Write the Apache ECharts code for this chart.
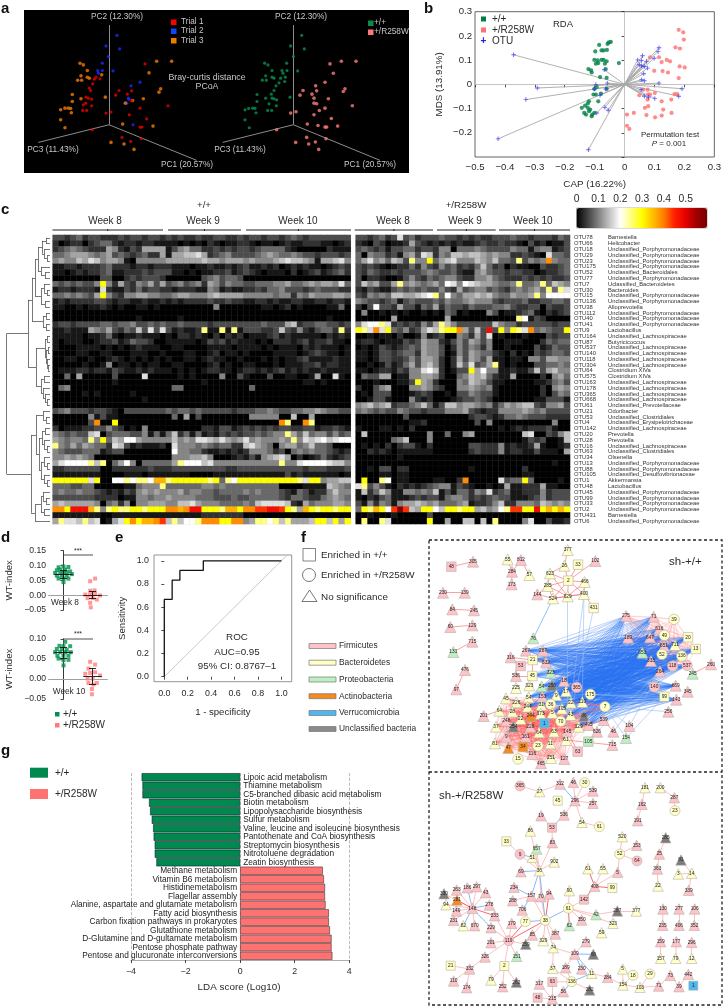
<!DOCTYPE html>
<html><head><meta charset="utf-8">
<style>html,body{margin:0;padding:0;background:#fff}#c{width:724px;height:1006px}</style>
<script src="https://cdn.jsdelivr.net/npm/echarts@6/dist/echarts.min.js"></script>
</head><body><div id="c"></div>
<script>
// ---------- panel a: PCoA projections (picture units of the 3-D projection)
const trial1=[[435,192],[288,232],[300,237],[283,238],[278,252],[268,265],[272,272],[258,292],[265,295],[275,298],[257,310],[275,318],[250,315],[248,332],[260,332],[357,272],[347,286],[395,273],[382,283],[420,325],[395,303],[318,340],[333,337],[388,345],[440,357],[504,318],[420,382],[426,382],[277,390],[366,413],[424,417],[392,425]];
const trial2=[[351,106],[318,138],[359,147],[325,170],[307,190],[307,212],[293,212],[295,220],[339,213],[420,247],[393,258],[385,295],[387,298],[380,310],[399,375]];
const trial3=[[240,190],[250,195],[262,212],[243,228],[262,232],[268,235],[233,241],[245,241],[305,225],[217,284],[243,297],[217,305],[182,330],[195,325],[205,325],[212,326],[214,339],[182,360],[195,384],[316,292],[470,184],[515,184],[447,219],[482,267],[477,277],[430,297],[398,302],[376,310],[368,373],[459,379],[333,428],[372,433],[402,449]];
const pcoaWT=[[905,106],[872,138],[913,147],[880,170],[794,190],[804,195],[860,190],[816,212],[846,212],[861,212],[893,213],[849,220],[797,228],[816,232],[822,235],[856,232],[787,241],[799,241],[842,235],[854,245],[837,249],[828,258],[822,272],[814,283],[771,284],[797,295],[816,295],[822,297],[830,300],[807,312],[771,305],[735,330],[746,326],[758,325],[765,326],[768,339],[803,332],[815,332],[829,318],[735,360],[748,384],[870,292]];
const pcoaMut=[[990,192],[1024,184],[1068,184],[1000,220],[975,247],[947,258],[909,272],[950,273],[900,286],[936,283],[942,295],[985,297],[942,310],[950,312],[975,325],[958,332],[1057,318],[1035,267],[1030,275],[872,340],[888,336],[942,345],[994,356],[922,373],[954,377],[975,382],[980,382],[1013,379],[830,390],[920,413],[978,417],[946,427],[887,428],[926,433],[956,449]];
const pcoaAxes=[[[327,375],[327,75]],[[327,375],[115,428]],[[327,375],[590,482]],[[880,375],[880,75]],[[880,375],[668,428]],[[880,375],[1140,482]]];
// ---------- panel b: RDA
const rdaWT=[[-.085,.163],[-.046,.175],[-.053,.173],[-.057,.167],[-.059,.142],[-.077,.14],[-.07,.14],[-.098,.136],[-.019,.088],[-.101,.101],[-.09,.099],[-.088,.088],[-.077,.101],[-.07,.101],[-.06,.095],[-.066,.085],[-.096,.085],[-.121,.063],[-.112,.058],[-.11,.049],[-.082,.03],[-.06,.027],[-.063,.063],[-.101,-.019],[-.093,-.011],[-.104,-.042],[-.096,-.042],[-.079,-.038],[-.06,-.019],[-.132,-.088],[-.123,-.079],[-.143,-.097],[-.119,-.07],[-.088,-.07],[-.135,-.118],[-.129,-.125],[-.115,-.104],[-.11,-.132],[-.101,-.118],[-.108,-.125],[-.123,-.097],[-.119,-.111]];
const rdaMut=[[.181,.225],[.196,.215],[.198,.185],[.17,.153],[.185,.148],[.115,.112],[.085,.112],[.124,.092],[.141,.101],[.152,.095],[.184,.074],[.201,.07],[.099,.056],[.127,.055],[.145,.049],[.181,.026],[.062,-.022],[.077,-.022],[.079,-.042],[.085,-.042],[.101,-.036],[.077,-.063],[.049,-.045],[.124,-.07],[.156,-.063],[.167,-.04],[.176,-.04],[.079,-.09],[.068,-.097],[.129,-.104],[.008,-.125],[.031,-.118],[.073,-.127],[.102,-.136],[.124,-.129],[.157,-.118],[.008,-.171],[.016,-.184]];
const rdaOTU=[[-.371,.122],[-.292,-.015],[-.33,-.063],[-.423,-.225],[-.121,-.27],[-.096,-.001],[-.058,.005],[-.063,-.019],[-.101,-.019],[-.082,-.045],[-.093,-.118],[-.066,-.095],[-.055,-.107],[-.068,.06],[.115,.151],[.112,.136],[.06,.118],[.044,.101],[.057,.099],[.073,.095],[.099,.108],[.077,.067],[.066,.074],[.057,.077],[.049,.081],[.064,.044],[.057,.019],[.066,.015],[.115,.005],[.192,-.018],[.181,-.049],[.101,-.058],[.08,-.053],[.055,-.022],[.066,-.049]];
// ---------- panel c: heat map
const otuNames=['OTU78','OTU66','OTU18','OTU29','OTU23','OTU175','OTU52','OTU77','OTU7','OTU30','OTU15','OTU136','OTU38','OTU112','OTU40','OTU41','OTU9','OTU164','OTU87','OTU537','OTU140','OTU118','OTU304','OTU64','OTU575','OTU163','OTU178','OTU365','OTU668','OTU61','OTU21','OTU53','OTU4','OTU142','OTU20','OTU28','OTU16','OTU63','OTU34','OTU13','OTU88','OTU105','OTU1','OTU48','OTU45','OTU99','OTU33','OTU2','OTU431','OTU6'];
const P='Unclassified_Porphyromonadaceae',LA='Unclassified_Lachnospiraceae';
const taxa=['Barnesiella','Helicobacter',P,P,P,P,'Unclassified_Bacteroidales',P,'Uclassified_Bacteroidetes','Bacteroides',P,P,'Alloprevotella',P,P,P,'Lactobacillus',LA,'Butyricicoccus',LA,LA,LA,LA,'Clostridium XIVa','Clostridium XIVa',LA,LA,LA,LA,'Unclassified_Prevotellaceae','Odoribacter','Unclassified_Clostridiales','Unclassified_Erysipelotrichaceae',LA,'Prevotella','Prevotella',LA,'Unclassified_Clostridiales','Olsenella',P,P,'Unclassified_Desulfovibrionaceae','Akkermansia','Lactobacillus',P,P,P,P,'Barnesiella',P];
const levels={a:.25,y:.3,o:.36,O:.39,r:.44,R:.48,D:.58};
const heatWT=[
"3323423322 2323323323 2322322332 2323323323 4323333333",
"2012202344 2122122111 1010102101 1221011012 1122211012",
"2345432226 5213266661 3564422323 2332344442 1000002111",
"4456665456 3432342261 6677862345 3333456544 5433233323",
"5655768756 6510555556 6666676656 6656555678 7765166785",
"1122122234 2221221222 1110112112 1231121201 2121101232",
"1101212234 1122232333 1101011223 1232101110 2012312342",
"0000000033 0023233320 0000034534 4300000000 0000000000",
"43434335y5 2632546363 4534526535 4433444556 4456566584",
"1221222182 1132423322 1222115412 1122324453 3323433322",
"44545436y5 3255665544 5665556766 6655555455 2546555665",
"1212222332 1221121121 2122223223 2211221211 2211221221",
"1100101121 0100110100 0000000500 0000011012 0100001140",
"0000000000 0000000000 0000000000 0000000000 0000000000",
"0000000000 0000100000 0100000000 0000000000 0000001000",
"2332333344 3445334343 3433332333 3333343336 7233443323",
"1121116546 3243738383 12112a11a1 a133322373 252134 42a2",
"1111101124 1011211101 0221210202 1201112312 1111102121",
"1011100122 3124332001 1111013231 2111010222 1231223110",
"1000111101 0101211100 1100001111 0111101011 1021211101",
"0000110011 0001110010 0011001201 1010000111 1012321101",
"0011001001 2101010101 0011012110 0100010101 1231111211",
"0000010015 0110101100 1100001201 0011000101 1122312211",
"0111221221 3211212111 0101012211 0122121231 2121121111",
"0040600000 3000080000 0101000050 0310003001 1001600810",
"0000000000 1000000000 0000010000 0000000000 0011010000",
"0450000000 0000000000 4400000000 0004000000 0000000000",
"0000010100 0001000000 0000000000 0000000000 0000000000",
"0000000000 0000010000 0000000000 0000000000 0000000000",
"0000000000 0000000000 0000000000 0000000000 0000000000",
"3453332332 1033333334 3443433333 2333445433 4455654433",
"0000005131 1000000000 4060300000 0005555500 7006000000",
"0000003O00 y000000000 0000000000 00000000Oa 00Oa000000",
"2011122335 3201050000 0000022133 1232323233 2233122321",
"5434337803 4443351414 7241412132 323343455a 6474553534",
"654554a5y4 7699655555 7565887686 5685655565 a587897899",
"a546465442 8731211120 8555454344 2278654056 6457443000",
"5433344412 3300000000 9554421121 2125554230 4545443212",
"5565654000 0000000000 5556675000 1213156786 0201242123",
"689999a7a0 4695044444 6a99978555 5555555 5a5 5899998775",
"2233333300 2222223222 3333333332 2333333333 3323332223",
"1111111100 0011101111 1110000111 1111111113 1211111101",
"yyyyyy8y00 99a9aa9ooa yyyyyyay4a 9yyyyyyyyy ya8yy56677",
"4443344000 00114555a4 4444455454 4444444400 0011117654",
"4544544321 2132565655 5645544344 4454544432 1431225755",
"3333333222 2011554556 5555444333 4334444432 4432245654",
"6766666504 5250556665 5778655544 4454788887 2164555665",
"OOyRRRoa5a yaayyayyyO OoORRyyyao oyOOrrRRry a6oyayyayy",
"1111111100 1111111111 1111122222 2200000000 0000000000",
"6a887a7801 68yOyooOr7 a799aOOOyy OO56aa9a7a 6667yy7y6y"];
const heatMut=[
"3323423834 2333433232 3223334332 333243",
"2103201126 3212121211 2322322103 120113",
"3432313344 2332550444 5433335441 455123",
"4054423156 3872547767 7656552232 108443",
"46856476 3a 55y4678555 7657443a35 4 5O544y",
"3232101224 2532534232 4742302110 032234",
"3243223233 3454334211 5643323322 012234",
"3022100135 3243455322 5564322232 323223",
"3756336a56 5456498598 7665445a44 5a4765",
"2132113434 3433532634 5534324545 64a4a8",
"3254547766 789a495466 7675446556 a59999",
"5433234134 3334354456 5553233342 233443",
"2039332633 1436243324 3334453223 303223",
"0500101010 0101043010 0053011234 102123",
"0000006000 0000060000 0000000a91 320000",
"5899a82323 2536a75333 3337544233 333233",
"ya8O8y4352 3687ayyO63 73R3y5ya8O 454 33y",
"0010110200 1512300542 6380100010 003233",
"1221011132 3655213536 5350011100 024344",
"0101321234 3655302535 4250010000 312433",
"1101332344 2655301536 5442102010 323443",
"1101332235 3665202636 5361101105 536655",
"0010131246 3675202748 346a101000 334454",
"1101221325 5897201 33y 6955112113 736755",
"0433660115 5665200457 6742116000 020564",
"0001000113 y652000547 6531100000 112453",
"2003560005 5653200556 5451000000 020565",
"0103330001 2320010335 4331000000 020354",
"0013310005 2120001233 4320000000 113331",
"5675672334 5741377566 5452465677 325563",
"4543433543 3233355563 2122555565 453333",
"0000000030 0000000002 3321244543 332222",
"0000000001 1200000000 3050000000 000500",
"1000110102 0000000000 0000101212 223100",
"0700000000 0050040056 0000000078 003257",
"0000004570 0050000000 0000000013 230017",
"0101020233 1020000003 3222512112 610012",
"0021210111 1110000002 3222512211 311106",
"0000000100 0000000000 0000000000 000000",
"0000000000 0000000000 0000000000 000100",
"0010330220 0000000001 0000000020 000000",
"0000110110 0000000000 0000000011 000000",
"0y00a90110 00011002O0 0000834 4y4 0000 10",
"8a35310212 1234551321 0010161122 261100",
"1724751155 4547131442 5482341122 252333",
"1021341112 3233145542 3234331112 352333",
"3152541566 7656444561 2235722555 476565",
"4yaoy9rDr7 6yy97yyayy 6756 9arryy Ryoyoy",
"0010001000 0030000000 0000000000 000000",
"0a00a80000 00y0060077 0 70a000058 003112"];
const colTicks=['0','0.1','0.2','0.3','0.4','0.5'];
// dendrogram: [height, child, child]; 0 is a leaf
const L=0;
const dendro=[6.7,
 [28,
  [32,
   [35,[38,[42,[46,L,L],[44,L,[47,L,L]]],[41,L,[45,L,L]]],[41,[44,L,[47,L,L]],[45,L,L]]],
   [43,[46,L,L],[46,L,L]]],
  [36,
   [45,[47,L,L],[46,[48,L,L],[47,L,[48,L,L]]]],
   [41,[44,L,L],[43,L,[45,L,[47,L,L]]]]]],
 [31,
  [36,[43,L,[46,L,L]],
   [39,[42,[45,L,L],[44,L,[47,L,L]]],[41,[44,L,[47,L,L]],[44,L,[47,L,L]]]]],
  [35,[41,[43,L,[46,L,L]],[44,L,L]],L]]];
// ---------- panel d
const wt8=[[-.17,.094],[0,.097],[.17,.095],[-.11,.086],[-.23,.084],[.06,.086],[.23,.08],[-.29,.075],[-.11,.075],[0,.075],[.11,.077],[.29,.071],[-.23,.066],[-.06,.066],[.11,.066],[-.17,.056],[0,.056],[.17,.056],[0,.044]];
const mut8=[[1.09,.056],[.92,.047],[.92,.015],[1.07,.016],[.75,.002],[.92,.002],[1.09,.007],[1.26,-.001],[.83,-.01],[1.01,-.01],[1.15,-.015],[.92,-.026],[.94,-.041]];
const wt10=[[.06,.093],[-.14,.083],[0,.082],[.23,.082],[-.23,.075],[-.06,.075],[.11,.073],[-.29,.067],[-.11,.067],[.06,.067],[.25,.067],[-.21,.058],[0,.058],[.17,.058],[-.17,.051],[0,.047],[.17,.048],[0,.034]];
const mut10=[[.92,.043],[1.09,.036],[.86,.026],[.75,.013],[.92,.015],[1.09,.017],[1.26,.009],[.83,.001],[1.01,.001],[1.15,-.01],[.86,-.01],[1.03,-.014],[.98,-.025],[.98,-.038]];
const summary8=[[0,.071,.013],[1,0,.012]], summary10=[[0,.066,.013],[1,.007,.02]];
// ---------- panel e
const roc=[[0,0],[0,.667],[.067,.667],[.067,.833],[.133,.833],[.133,.917],[.333,.917],[.333,1],[1,1]];
const rocTicks=[0,.2,.4,.6,.8,1];
// ---------- panel g
const pathways=['Lipoic acid metabolism','Thiamine metabolism','C5-branched dibasic acid metabolism','Biotin metabolism','Lipopolysaccharide biosynthesis','Sulfur metabolism','Valine, leucine and isoleucine biosynthesis','Pantothenate and CoA biosynthesis','Streptomycin biosynthesis','Nitrotoluene degradation','Zeatin biosynthesis','Methane metabolism','Vitamin B6 metabolism','Histidinemetabolism','Flagellar assembly','Alanine, aspartate and glutamate metabolism','Fatty acid biosynthesis','Carbon fixation pathways in prokaryotes','Glutathione metabolism','D-Glutamine and D-gultamate metabolism','Pentose phosphate pathway','Pentose and glucuronate interconversions'];
const ldaWT=[-3.61,-3.58,-3.58,-3.34,-3.3,-3.24,-3.19,-3.17,-3.13,-3.13,-3.07];
const ldaMut=[3.03,3.07,3.11,3.11,3.13,3.25,3.25,3.29,3.35,3.35,3.38];
// ---------- panel f: networks [id, shape, phylum, x, y]; the label is the id's leading digits
const net1Nodes=[['48','s','p',82,110],['305','t','p',147,95],['230','t','p',57,188],['139','t','p',122,188],['84','t','p',85,238],['245','t','p',150,241],['60','t','p',79,291],['129','t','p',145,286],['131','t','g',88,366],['715','t','p',145,335],['476','t','p',123,420],['97','t','p',97,478],
['55','t','y',251,88],['812','t','p',291,90],['284','t','p',264,125],['173','t','p',263,163],['57','t','y',316,135],['377','t','y',431,60],['26','t','y',421,107],['33','s','y',462,104],['102','t','p',514,93],['623','t','y',378,130],['2','s','y',433,152],['466','t','y',482,156],['285','t','y',371,168],['144','t','p',340,193],['524','t','y',387,205],['629','t','y',431,199],['400','t','y',480,192],['431','s','y',509,234],['76','t','g',328,325],
['275','t','p',606,258],['71','t','p',689,260],['39','c','y',750,268],['616','t','p',706,296],['189','t','p',612,323],['647','t','p',678,322],['49','c','y',721,316],['20','s','y',792,322],['651','t','p',720,348],['711','t','y',753,345],['13','s','y',815,357],['653','t','g',655,368],['52','c','y',714,373],['136','c','y',773,378],['333','t','p',681,393],['118','c','p',746,408],['537','c','p',789,406],['260','t','p',861,403],['245b','t','g',806,431],['264','t','p',708,424],['140','c','p',691,471],['669','t','p',755,467],['345','t','p',791,485],['143','t','p',757,509],['99','s','y',721,500],['256','t','p',733,545],
['267','t','p',306,362],['287','t','p',357,362],['21','s','y',326,390],['316','t','p',260,382],['53','s','p',290,408],['532','t','p',366,397],['45','s','y',325,438],['536','t','p',276,438],['323','t','g',380,428],['323b','t','y',316,466],['54','t','g',353,469],['256b','t','k',384,466],['18','t','p',420,453],['365','c','p',458,472],['225','t','y',276,474],['17','t','y',426,484],['175','c','y',499,493],['9','t','y',397,496],['151','t','p',355,500],['45b','t','y',246,505],['54b','t','y',314,502],['7','c','y',543,530],['36','c','y',380,523],['226','t','y',277,517],['244','t','y',311,530],['22','t','y',441,518],['110','t','y',475,516],['64','t','y',226,542],['28','t','y',265,545],['31','t','y',352,525],['105','t','y',414,536],['173b','t','y',350,551],['5','t','y',385,549],['201','t','p',179,558],['244b','t','o',320,558],['43','t','y',440,555],['86','t','k',480,558],['248','t','p',247,572],['22b','t','y',290,567],['70','c','y',410,574],['1','s','b',361,580],['539','t','p',539,570],['37','t','y',216,590],['254','t','k',268,590],['228','t','p',319,590],['129b','t','y',464,590],['495','t','p',494,585],['626','t','p',519,605],['46','t','p',568,605],['104','t','p',616,588],['154','t','g',606,624],['105b','s','g',493,635],['715b','t','p',565,645],['145','t','p',430,604],['64b','t','y',345,607],['63','t','y',390,605],['161','t','p',305,620],['9b','t','p',247,620],['81','t','y',213,640],['47','t','o',253,654],['34','s','o',297,651],['23','c','y',342,648],['11','t','y',379,640],['61','t','y',426,630],['63b','s','p',461,665],['15','c','y',282,687],['116','t','p',325,672],['251','t','y',381,684],['127','t','p',421,687],['465','t','p',351,700]];
const net1Red=[['476','97'],['131','715'],['48','305'],['230','139'],['84','245'],['60','129'],['55','284'],['812','284'],['284','173'],['812','57'],['377','26'],['26','2'],['26','623'],['33','2'],['102','2'],['623','2'],['623','285'],['623','629'],['2','466'],['2','285'],['2','400'],['2','629'],['2','524'],['466','400'],['466','629'],['400','629'],['400','524'],['285','629'],['285','524'],['144','524'],['285','144'],['629','524'],['400','431'],['7','110'],['7','22'],['7','86'],['7','43'],['201','64'],['1','254'],['37','248'],['260','245b'],['267','21'],['287','21'],['316','21'],['53','21'],['532','21'],['45','21'],['536','45'],['316','53'],['532','323'],['626','495'],['46','539'],['715b','61'],['63b','61'],['63b','145'],['539','145']];
const net1Blue=[['524','76'],['629','145'],['431','43'],['400','22'],['400','110'],['99','7'],['99','175'],['256','7'],['143','175'],['46','264'],['104','264'],['154','99'],['626','264'],['495','99'],['539','99'],['7','154'],['7','104'],['76','524']];
const redCore=['64','28','248','22b','37','254','228','161','9b','81','47','34','23','116','251','127','465','61','145','64b','63','11','1','70','244b','173b','244','226','31','43','129b','495','86','5','105','36','54b','45b'];
const redRight=['275','71','39','616','189','647','49','20','651','711','13','653','52','136','333','118','537','264'];
const blueLeft=['532','287','21','45','267','323','54','256b','18','365','17','175','9','151','7','36','22','110','105','31','54b','244','86','43','5','70','129b','495'];
const blueRight=['275','189','647','653','333','264','52','136','118','537','13','20','651','711','140','669','99','71','49','616','143'];
const net2Nodes=[['365','c','p',288,63],['27','t','y',347,80],['312','t','p',408,57],['46','t','p',448,52],['30','c','y',482,53],['539','t','p',507,78],['45','s','y',401,107],['296','t','p',453,107],['257','t','p',507,115],['19','t','p',351,152],['536','t','p',420,150],['54','t','y',474,172],['61c','c','y',526,185],['53','s','p',384,188],['86','t','y',319,198],['33','s','y',247,229],['657','t','g',338,252],['83','t','p',385,233],['9','c','p',288,268],['51','t','y',325,277],['902','t','y',391,291],['69','t','p',291,320],['36','t','y',346,317],
['181','t','y',663,68],['200','t','y',709,68],['287','t','p',751,98],['162','t','p',654,118],['23','c','y',753,137],['191','t','p',641,167],
['520','t','y',595,215],['153','t','p',638,241],['52','c','y',587,267],['64','c','p',639,288],['5','t','p',581,322],['61','t','y',492,311],['55','t','y',537,311],['408','t','p',512,364],['99','s','y',565,369],
['285','t','k',725,218],['25','t','p',706,267],['81','t','k',771,285],['363','t','p',700,312],['3','t','y',763,327],['14','t','y',803,325],['22','t','y',702,363],['339','t','p',794,376],
['130','t','p',717,432],['277','t','p',765,432],['106','t','p',812,432],['235','t','p',716,481],['406','t','p',765,481],['352','t','p',811,481],['159','t','p',710,530],['177','t','p',757,530],['296b','t','p',803,532],['157b','t','y',710,580],['79','t','y',755,580],['12','t','y',803,580],
['330','t','k',60,386],['263','t','p',98,375],['186','t','p',130,368],['297','t','p',158,365],['43','t','p',185,383],['94b','t','y',66,419],['281','t','o',99,405],['148','t','p',145,430],['278','t','p',196,420],['149','t','p',97,438],['233','t','p',212,452],['231','t','p',89,466],['82','t','y',118,482],['670','t','p',152,482],['229','t','p',201,488],
['234','t','p',270,367],['288','t','p',266,407],['157','t','p',322,393],['70','t','p',351,395],['94','t','p',375,387],['706','t','p',295,435],['90','t','y',436,377],['142','s','p',480,404],['61b','c','y',433,430],['38','c','y',364,466],['77','c','y',304,470],['179','t','p',263,475],['42','t','g',516,449],['287b','t','k',580,438],['377','t','y',637,438],['350','t','p',473,465],['62','t','g',436,482],['323','t','y',567,475],['59','t','y',533,503],
['85','t','p',325,510],['387','t','p',394,507],['329','t','y',358,527],['119','c','p',254,527],['201','t','p',201,533],['259','t','k',305,538],['74','t','y',388,548],['279','t','p',486,530],['109','t','p',452,567],['68','t','k',508,568],['151','t','g',278,574],['326','t','p',183,576],
['21','s','y',80,602],['332','t','p',137,612],['2','s','y',241,603],['37','t','y',386,610],['189','t','p',425,608],['230','t','p',473,612],['11','t','y',503,625],['284','t','p',551,637],['5b','t','y',596,612],['18','c','y',627,631],['29','c','y',678,627],['73','t','p',739,631],['442','t','p',793,628],['110','t','p',89,648],['79b','t','y',201,645],['262','t','k',277,652],['63','s','p',385,651],['136','c','y',443,650],['154','t','y',597,660],['103','t','y',648,667],['71','t','p',704,663],['39','t','p',765,665],['1','s','b',808,662],['317','t','p',346,657],['174','t','p',128,668],['252','t','p',236,665],['56','t','p',418,680],['282','t','k',497,675],['48','s','p',341,698],['215','t','p',385,702]];
const net2Pink='365-27 27-312 46-296 30-296 539-296 257-296 296-536 296-54 54-61c 19-53 53-83 83-36 86-36 33-9 9-36 657-36 51-36 902-36 36-70 157-38 70-38 288-157 181-162 162-191 200-287 287-23 520-52 153-52 52-64 52-5 5-408 55-408 142-61b 90-61b 61b-350 61b-42 61b-323 42-287b 287b-377 285-25 25-363 363-22 81-14 3-14 14-339 130-235 277-406 106-352 159-157b 177-79 296b-12 330-148 263-148 297-148 43-148 94b-148 149-148 231-148 670-148 233-119 229-119 179-119 38-85 38-387 38-329 38-74 119-201 119-259 119-151 119-326 326-332 21-332 332-110 332-174 119-2 2-79b 2-252 2-262 74-37 74-109 279-109 109-189 37-136 136-189 136-63 136-282 63-215 317-215 48-215 56-215 11-284 284-154 5b-154 18-154 154-103 103-29 103-71 71-73 73-39 39-442'.split(' ');
const net2Strong='61-408 408-99 408-142 94-38 61b-62 281-148 233-148 77-119 38-119'.split(' ');
const net2Blue='312-296 536-53 9-51 69-36 36-157 36-38 234-157 157-706 61b-38 186-148 278-148 82-148 229-148 38-77 109-68 109-230 109-11 136-11 136-56'.split(' ');

// ---------- helpers
const FF='"Liberation Sans",Arial,sans-serif';
const TXT='#2a2a2a';
const phylum={p:'#ffc2c8',y:'#ffffc6',g:'#bdf0c0',o:'#f58a20',b:'#4db8f0',k:'#7c7c7c'};
const shape={t:'triangle',s:'rect',c:'circle'};
const size={t:11,s:9.5,c:10.5};
const minus=s=>String(s).replace('-','\u2212');
const hide=(i,min,max,inv)=>({gridIndex:i,type:'value',min,max,inverse:!!inv,show:false});
const segs=(g,data,color,width,z)=>({type:'lines',coordinateSystem:'cartesian2d',xAxisIndex:g,yAxisIndex:g,silent:true,z:z||2,lineStyle:{color,width,opacity:1},data:data.map(c=>({coords:c}))});
const dots=(g,data,color,sym,sz,z)=>({type:'scatter',xAxisIndex:g,yAxisIndex:g,data,symbol:sym,symbolSize:sz,silent:true,z:z||3,itemStyle:{color}});
const grey=d=>Math.pow(d/9,1.1)*0.2;
const parse=s=>[...s.replace(/ /g,'')].map(ch=>ch in levels?levels[ch]:grey(+ch));
function cells(rows){const out=[];rows.forEach((r,y)=>parse(r).forEach((v,x)=>out.push([x,y,v])));return out;}
function dendroSegs(){const out=[];let row=0;
  (function walk(n){if(n===0)return{y:row++ +0.5,x:50};
    const a=walk(n[1]),b=walk(n[2]),x=n[0];
    out.push([[a.x,a.y],[x,a.y]],[[b.x,b.y],[x,b.y]],[[x,a.y],[x,b.y]]);
    return{y:(a.y+b.y)/2,x};})(dendro);return out;}
function graph(g,nodes,links,nodeSize){
  return {type:'graph',layout:'none',coordinateSystem:'cartesian2d',xAxisIndex:g,yAxisIndex:g,silent:true,z:3,
    data:nodes.map(n=>({name:n[0],value:[n[3],n[4]],symbol:shape[n[1]],symbolSize:size[n[1]]*nodeSize,
      itemStyle:{color:phylum[n[2]],borderColor:'#b5b0a8',borderWidth:.6},
      label:{show:true,position:'inside',formatter:n[0].replace(/\D.*$/,''),fontSize:4.8,fontFamily:FF,color:'#222'}})),
    links};
}
const link=(s,t,color,width,opacity)=>({source:s,target:t,lineStyle:{color,width,opacity,curveness:0}});
const pairs=list=>{const o=[];list.forEach((a,i)=>list.slice(i+1).forEach(b=>o.push([a,b])));return o;};
const net1Links=[
  ...pairs(redCore).map(p=>link(p[0],p[1],'#f33',.6,.2)),
  ...pairs(redRight).map(p=>link(p[0],p[1],'#f55',.6,.3)),
  ...blueLeft.flatMap(a=>blueRight.map(b=>link(a,b,'#2a70f0',.7,.42))),
  ...net1Blue.map(p=>link(p[0],p[1],'#8ab8f8',.7,.8)),
  ...net1Red.map(p=>link(p[0],p[1],'#f66',.9,.7))];
const net2Links=[
  ...net2Pink.map(e=>{const p=e.split('-');return link(p[0],p[1],'#ffb0b0',.8,1);}),
  ...net2Strong.map(e=>{const p=e.split('-');return link(p[0],p[1],'#f56a6a',1,1);}),
  ...net2Blue.map(e=>{const p=e.split('-');return link(p[0],p[1],'#7fb0f5',.9,1);})];

const rect=(x,y,w,h,fill,stroke,lw)=>({type:'rect',silent:true,shape:{x,y,width:w,height:h},style:{fill:fill||'none',stroke:stroke||null,lineWidth:lw||0}});
const line=(x1,y1,x2,y2,c,w,dash)=>({type:'line',silent:true,shape:{x1,y1,x2,y2},style:{stroke:c||'#222',lineWidth:w||1,lineDash:dash||null}});
const T=(x,y,text,size,o)=>{o=o||{};return {type:'text',silent:true,x,y,rotation:o.rot||0,style:{text,fontSize:size,fontFamily:FF,fontWeight:o.bold?'bold':'normal',fontStyle:'normal',fill:o.fill||TXT,textAlign:o.align||'left',textVerticalAlign:'middle'},z:50};};
const bracket=(x1,x2)=>[line(x1,230,x2,230,'#222',1),line((x1+x2)/2,229,(x1+x2)/2,231,'#222',1)];
const G=[];
// panel letters
[['a',1,9],['b',424,9],['c',1,210],['d',1,538],['e',115,538],['f',301,538],['g',1,751]].forEach(l=>G.push(T(l[1],l[2],l[0],15,{bold:true,fill:'#111'})));
// a labels
const lightT='#c8c8c8';
[[92,17],[276,17]].forEach(p=>G.push(T(p[0]+25,p[1],'PC2 (12.30%)',8.3,{fill:lightT,align:'center'})));
[[53,150],[240,150]].forEach(p=>G.push(T(p[0],p[1],'PC3 (11.43%)',8.3,{fill:lightT,align:'center'})));
[[187,165],[370,165]].forEach(p=>G.push(T(p[0],p[1],'PC1 (20.57%)',8.3,{fill:lightT,align:'center'})));
G.push(T(207,78,'Bray-curtis distance',8.8,{fill:lightT,align:'center'}),T(207,87,'PCoA',8.8,{fill:lightT,align:'center'}));
[['#f00','Trial 1',22],['#14f','Trial 2',31],['#f07c00','Trial 3',40.5]].forEach(r=>{G.push(rect(171,r[2]-2.5,5.5,5.5,r[0]),T(181,r[2],r[1],8.2,{fill:lightT}));});
G.push(rect(368,20.5,5.5,5.5,'#0b8a4c'),T(374,23,'+/+',8.3,{fill:lightT}),rect(368,29.5,5.5,5.5,'#ff7878'),T(374,32,'+/R258W',8.3,{fill:lightT}));
// b labels
G.push(rect(481,16.5,5,5,'#007f45'),rect(481,27.5,5,5,'#ff7070'),T(483.5,41.5,'+',10,{fill:'#2222ee',align:'center',bold:true}),
  T(492,19,'+/+',10),T(492,30,'+/R258W',10),T(492,41.5,'OTU',10),T(563,24,'RDA',9.5,{align:'center'}),
  T(670,135,'Permutation test',8,{align:'center'}),
  {type:'text',silent:true,x:669,y:144,style:{text:'{i|P} = 0.001',rich:{i:{fontStyle:'italic',fontSize:8,fontFamily:FF,fill:TXT}},fontSize:8,fontFamily:FF,fill:TXT,textAlign:'center',textVerticalAlign:'middle'},z:50});
// c headers
G.push(T(204,205.5,'+/+',9.7,{align:'center'}),T(466,205.5,'+/R258W',9.7,{align:'center'}));
[['Week 8',105],['Week 9',203],['Week 10',298],['Week 8',393],['Week 9',465],['Week 10',533]].forEach(w=>G.push(T(w[1],221,w[0],10,{align:'center'})));
[[52.5,163],[168,241],[246,351],[354.7,433],[437,495.7],[499,570]].forEach(b=>G.push(...bracket(b[0],b[1])));
colTicks.forEach((t,i)=>G.push(T(576.7+i*21.8,199,t,10.3,{align:'center'})));
G.push(rect(576.5,208,130.5,20,null,'#999',.7));
// d
G.push(line(63,555,93,555,'#222',.8),T(78,551,'***',7,{align:'center'}),line(63,639,93,639,'#222',.8),T(78,634.5,'***',7,{align:'center'}),
  T(65,603,'Week 8',8.3,{align:'center'}),T(69,692,'Week 10',8.3,{align:'center'}));
G.push(rect(55,712,4.5,4.5,'#00904f'),T(63,714.3,'+/+',10),rect(55,723,4.5,4.5,'#ff7a7a'),T(63,725.3,'+/R258W',10));
// e
G.push(T(237,637,'ROC',9.8,{align:'center'}),T(237,652,'AUC=0.95',9.8,{align:'center'}),T(237,666,'95% CI: 0.8767\u20131',9.8,{align:'center'}));
// f legends
G.push({type:'rect',silent:true,shape:{x:303,y:548.5,width:12.5,height:12.5},style:{fill:'#fff',stroke:'#666',lineWidth:.8}},
  {type:'circle',silent:true,shape:{cx:309,cy:575,r:6.5},style:{fill:'#fff',stroke:'#555',lineWidth:.8}},
  {type:'polygon',silent:true,shape:{points:[[309.5,590],[317,601.5],[302,601.5]]},style:{fill:'#fff',stroke:'#555',lineWidth:.8}},
  T(321,555,'Enriched in +/+',9.9),T(321,575,'Enriched in +/R258W',9.9),T(321,597,'No significance',9.9));
[['Firmicutes','#ffc2c8',646],['Bacteroidetes','#ffffc6',662.7],['Proteobacteria','#bdf0c0',679.5],['Actinobacteria','#f58a20',696.2],['Verrucomicrobia','#4db8f0',713],['Unclassified bacteria','#8a8a8a',729]].forEach(r=>{G.push(rect(309,r[2]-2.5,27,5,r[1],'#777',.7),T(339,r[2],r[0],8.4));});
// f boxes
G.push(rect(429,540,293,465,null,'#222',1.3));
G[G.length-1].style.lineDash=[3,2.5];
G.push(line(429,772,722,772,'#222',1.3,[3,2.5]));
G.push(T(669,562,'sh-+/+',11.5),T(439,796,'sh-+/R258W',11.5));
// g legend
G.push(rect(30,767.7,18,10,'#00884e'),T(55,773,'+/+',10),rect(30,789,18,10,'#ff7272'),T(55,794,'+/R258W',10));
G.push(T(239,987,'LDA score (Log10)',9.9,{align:'center'}));

// ---------- axes styling
const axisLine={show:true,lineStyle:{color:'#222',width:.9}};
const tick={show:true,length:3,lineStyle:{color:'#222',width:.8}};
const lab=(f,s)=>({fontSize:s||8.6,fontFamily:FF,color:TXT,margin:3,formatter:f});
const nameSty=s=>({fontSize:s,fontFamily:FF,color:TXT});
const dY=v=>minus(v.toFixed(2));
const bX=v=>Math.abs(v)<1e-6?'0':minus(v.toFixed(1));
const bY=v=>Math.abs(v+.3)<1e-6?'':bX(v);

const colsL=[...Array(50).keys()],colsR=[...Array(36).keys()],rowsIdx=otuNames.map((_,i)=>i);
const grids=[
 {left:24,top:10,width:385,height:163,show:true,backgroundColor:'#000',borderWidth:0}, //0 a
 {left:475,top:11.7,width:242.7,height:145.3,show:true,borderColor:'#555',borderWidth:.9}, //1 b
 {left:0,top:235,width:52,height:289}, //2 dendro
 {left:52.7,top:235,width:298,height:289}, //3
 {left:355.7,top:235,width:214.3,height:289}, //4
 {left:49,top:550.7,width:58,height:59.3}, //5
 {left:49,top:639,width:58,height:60}, //6
 {left:154,top:555,width:137.7,height:126.7,show:true,borderColor:'#888',borderWidth:.9}, //7
 {left:131,top:773,width:218.3,height:187}, //8
 {left:424,top:530,width:300,height:240}, //9
 {left:424,top:765,width:300,height:241} //10
];
const dXAxis=i=>({gridIndex:i,type:'value',min:-.5,max:1.5,axisLine,axisTick:Object.assign({customValues:[0,1]},tick),axisLabel:{show:false},splitLine:{show:false}});
const xAxes=[
 hide(0,72,1227),
 {gridIndex:1,type:'value',min:-.5,max:.3,interval:.1,position:'bottom',axisLine:{show:false},axisTick:tick,axisLabel:Object.assign(lab(bX,9.6),{margin:5}),splitLine:{show:false},name:'CAP (16.22%)',nameLocation:'middle',nameGap:22,nameTextStyle:nameSty(9.8)},
 hide(2,0,52),
 {gridIndex:3,type:'category',data:colsL,show:false},
 {gridIndex:4,type:'category',data:colsR,show:false},
 dXAxis(5),dXAxis(6),
 {gridIndex:7,type:'value',min:-.088,max:1.088,axisLine:{show:false},axisTick:Object.assign({customValues:rocTicks},tick),axisLabel:Object.assign({customValues:rocTicks},lab(v=>v.toFixed(1),8.9),{margin:7}),splitLine:{show:false},name:'1 - specificity',nameLocation:'middle',nameGap:26,nameTextStyle:nameSty(9.6)},
 {gridIndex:8,type:'value',min:-4,max:4,interval:2,axisLine:{show:true,lineStyle:{color:'#999',width:.8}},axisTick:{show:true,length:3,lineStyle:{color:'#444'}},axisLabel:Object.assign(lab(v=>minus(v),8.8),{margin:7}),splitLine:{show:false}},
 hide(9,0,900),hide(10,0,900),
 {gridIndex:8,type:'value',min:-4,max:4,interval:4,position:'top',axisLine:{show:false},axisTick:{show:false},axisLabel:{show:false},splitLine:{show:true,lineStyle:{type:'dashed',color:'#aaa',width:.8}}}
];
const yAxes=[
 hide(0,30,520,true),
 {gridIndex:1,type:'value',min:-.3,max:.3,interval:.1,axisLine:{show:false},axisTick:tick,axisLabel:lab(bY,9.6),splitLine:{show:false},name:'MDS (13.91%)',nameLocation:'middle',nameGap:31,nameTextStyle:nameSty(9.8)},
 hide(2,0,50,true),
 {gridIndex:3,type:'category',data:rowsIdx,inverse:true,show:false},
 {gridIndex:4,type:'category',data:otuNames,inverse:true,position:'right',axisLine:{show:false},axisTick:{show:false},
  axisLabel:{interval:0,margin:4,align:'left',formatter:(v,i)=>'{a|'+v+'}{b|'+taxa[i]+'}',
    rich:{a:{fontSize:5.8,fontFamily:FF,color:'#333',width:34,align:'left'},b:{fontSize:5.8,fontFamily:FF,color:'#333',align:'left'}}}},
 {gridIndex:5,type:'value',min:-.05,max:.15,interval:.05,axisLine,axisTick:tick,axisLabel:lab(dY),splitLine:{show:false},name:'WT-index',nameLocation:'middle',nameGap:35,nameTextStyle:nameSty(9.6)},
 {gridIndex:6,type:'value',min:-.05,max:.1,interval:.05,axisLine,axisTick:tick,axisLabel:lab(dY),splitLine:{show:false},name:'WT-index',nameLocation:'middle',nameGap:35,nameTextStyle:nameSty(9.6)},
 {gridIndex:7,type:'value',min:-.043,max:1.05,axisLine:{show:false},axisTick:Object.assign({customValues:rocTicks},tick),axisLabel:Object.assign({customValues:rocTicks},lab(v=>v.toFixed(1),8.9),{margin:5}),splitLine:{show:false},name:'Sensitivity',nameLocation:'middle',nameGap:27,nameTextStyle:nameSty(9.6)},
 {gridIndex:8,type:'category',data:pathways,inverse:true,axisLine:{show:false},axisTick:{show:false},axisLabel:{show:false}},
 hide(9,0,720,true),hide(10,0,723,true)
];
const summarySegs=s=>s.flatMap(m=>[[[m[0]-.32,m[1]],[m[0]+.32,m[1]]],[[m[0],m[1]-m[2]],[m[0],m[1]+m[2]]],[[m[0]-.12,m[1]-m[2]],[m[0]+.12,m[1]-m[2]]],[[m[0]-.12,m[1]+m[2]],[m[0]+.12,m[1]+m[2]]]]);
const barLabel=(pos)=>({show:true,position:pos,distance:3,formatter:'{b}',fontSize:8.3,fontFamily:FF,color:'#222'});
const series=[
 // a
 segs(0,pcoaAxes,'#8c8c8c',1),
 dots(0,trial2,'#1a2cff','circle',3.2),dots(0,trial3,'#f07c00','circle',3.6),dots(0,trial1,'#e80000','circle',3.2),
 dots(0,pcoaWT,'#0a9050','circle',3.2),dots(0,pcoaMut,'#ff7c7c','circle',3.6),
 // b
 segs(1,[[[-.5,0],[.3,0]],[[0,-.3],[0,.3]]],'#bdbdbd',.9,1),
 segs(1,rdaOTU.map(p=>[[0,0],p]),'#a8a8a8',.9),
 dots(1,rdaWT,'#007f45','circle',4.2,4),dots(1,rdaMut,'#ff6f6f','circle',4.2,4),
 dots(1,rdaOTU,'#3a3af0','path://M4 0h2v4h4v2H6v4H4V6H0V4h4z',4.5,5),
 // c
 segs(2,dendroSegs(),'#555',.8),
 {type:'heatmap',xAxisIndex:3,yAxisIndex:3,data:cells(heatWT),silent:true,itemStyle:{borderColor:'rgba(120,120,120,.25)',borderWidth:.3}},
 {type:'heatmap',xAxisIndex:4,yAxisIndex:4,data:cells(heatMut),silent:true,itemStyle:{borderColor:'rgba(120,120,120,.25)',borderWidth:.3}},
 // d
 segs(5,[[[-.5,0],[1.5,0]]],'#bbb',.8,1),segs(6,[[[-.5,0],[1.5,0]]],'#bbb',.8,1),
 dots(5,wt8,'#00904f','rect',4),dots(5,mut8,'#ff7f7f','rect',4),segs(5,summarySegs(summary8),'#111',.9,4),
 dots(6,wt10,'#00904f','rect',4),dots(6,mut10,'#ff7f7f','rect',4),segs(6,summarySegs(summary10),'#111',.9,4),
 // e
 segs(7,[[[0,0],[1.05,1.05]]],'#c4c4c4',.9,1),
 {type:'line',xAxisIndex:7,yAxisIndex:7,data:roc,showSymbol:false,silent:true,lineStyle:{color:'#111',width:1.3},z:3},
 // g
 {type:'bar',xAxisIndex:8,yAxisIndex:8,barWidth:8.2,barGap:'-100%',silent:true,data:pathways.map((_,i)=>i<ldaWT.length?ldaWT[i]:null),itemStyle:{color:'#00884e',borderColor:'#123',borderWidth:.6},label:barLabel('right'),z:3},
 {type:'bar',xAxisIndex:8,yAxisIndex:8,barWidth:8.2,silent:true,data:pathways.map((_,i)=>i<ldaWT.length?null:ldaMut[i-ldaWT.length]),itemStyle:{color:'#ff7272',borderColor:'#433',borderWidth:.6},label:barLabel('left'),z:3},
 // f
 graph(9,net1Nodes,net1Links,1),
 graph(10,net2Nodes,net2Links,.95)
];
const heatColors=['#000','#404040','#808080','#c0c0c0','#fff','#ffff80','#ff0','#ffc000','#ff8000','#ff2000','#e80000','#a00000','#7a0000'];
const chart=echarts.init(document.getElementById('c'),null,{renderer:'canvas'});
chart.setOption({animation:false,backgroundColor:'#fff',tooltip:{show:false},
 grid:grids,xAxis:xAxes,yAxis:yAxes,series,
 visualMap:{type:'continuous',min:0,max:.6,seriesIndex:[12,13],orient:'horizontal',left:576.5,top:208,itemWidth:20,itemHeight:130.5,calculable:false,hoverLink:false,text:null,showLabel:false,inRange:{color:heatColors},textStyle:{fontSize:1,color:'rgba(0,0,0,0)'},formatter:()=>'',padding:0},
 graphic:{elements:G}});
</script></body></html>
